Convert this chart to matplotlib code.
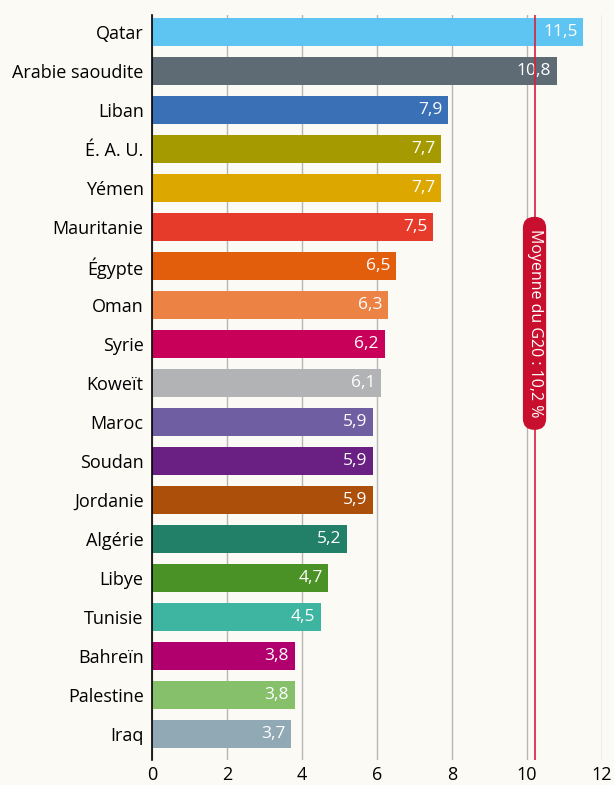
import matplotlib
matplotlib.use("Agg")
import matplotlib.pyplot as plt
from matplotlib.patches import FancyBboxPatch

countries = ["Qatar", "Arabie saoudite", "Liban", "É. A. U.", "Yémen", "Mauritanie",
             "Égypte", "Oman", "Syrie", "Koweït", "Maroc", "Soudan", "Jordanie",
             "Algérie", "Libye", "Tunisie", "Bahreïn", "Palestine", "Iraq"]
values = [11.5, 10.8, 7.9, 7.7, 7.7, 7.5, 6.5, 6.3, 6.2, 6.1, 5.9, 5.9, 5.9,
          5.2, 4.7, 4.5, 3.8, 3.8, 3.7]
colors = ["#5EC5F2", "#5E6B75", "#3A70B6", "#A59B00", "#DCA800", "#E63A2A",
          "#E35E0C", "#EC8244", "#C8005A", "#B2B3B5", "#6F5EA2", "#6A1F82",
          "#AB4F0B", "#218067", "#4B9226", "#3DB5A1", "#B1006E", "#86C06A", "#91A8B5"]
g20_mean = 10.2
g20_label = "Moyenne du G20 : 10,2 %"
xticks = [0, 2, 4, 6, 8, 10, 12]

plt.rcParams['font.family'] = ['Open Sans', 'DejaVu Sans']
bg = "#FBFAF5"

fig = plt.figure(figsize=(6.14, 7.85), dpi=100, facecolor=bg)
ax = fig.add_axes([0.2476, 0.0318, 0.7329, 0.9491], facecolor=bg)

y = list(range(len(countries)))
ax.barh(y, values, height=0.74, color=colors, zorder=2)

for yi, v in zip(y, values):
    ax.text(v - 0.15, yi, f"{v:.1f}".replace(".", ","), ha="right", va="center",
            color="white", fontsize=12.5, zorder=3)

ax.axvline(g20_mean, color="#D9203A", lw=1.2, zorder=4)

# rounded label box around the G20 line
box = FancyBboxPatch((g20_mean - 0.31, 4.74), 0.62, 5.46,
                     boxstyle="round,pad=0,rounding_size=0.3",
                     mutation_aspect=0.96,
                     fc="#C8102E", ec="none", zorder=5)
ax.add_patch(box)
ax.text(g20_mean, 7.47, g20_label, rotation=-90, ha="center", va="center",
        color="white", fontsize=11.5, zorder=6)

ax.set_xlim(0, 12)
ax.set_ylim(18.667, -0.436)
ax.set_xticks(xticks)
ax.set_xticklabels([str(t) for t in xticks], fontsize=13)
ax.set_yticks(y)
ax.set_yticklabels(countries, fontsize=13)
ax.tick_params(length=0, pad=6)
ax.tick_params(axis="x", pad=4)
ax.xaxis.grid(True, color="#B5B5B5", lw=1, zorder=0)
ax.set_axisbelow(True)
for s in ["top", "right", "bottom"]:
    ax.spines[s].set_visible(False)
ax.spines["left"].set_color("black")
ax.spines["left"].set_linewidth(1.2)
ax.spines["left"].set_zorder(6)

fig.savefig("out.png", dpi=100, facecolor=bg)
